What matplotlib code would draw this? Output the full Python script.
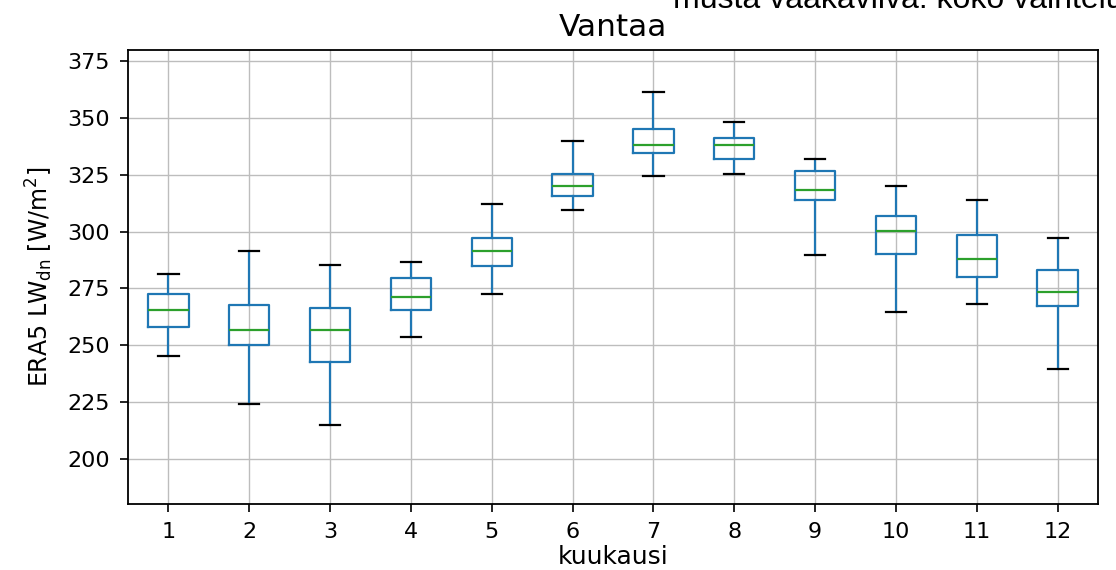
import matplotlib
matplotlib.use('Agg')
import matplotlib.pyplot as plt

# kuukausittaiset laatikot (luettu kuvasta)
kuukaudet = [1, 2, 3, 4, 5, 6, 7, 8, 9, 10, 11, 12]
whislo = [245.1, 224.0, 214.6, 253.5, 272.6, 309.3, 324.6, 325.2, 289.9, 264.7, 267.9, 239.3]
q1 = [258.0, 250.0, 242.5, 265.3, 284.8, 315.5, 334.6, 332.1, 313.9, 290.0, 279.8, 267.2]
med = [265.4, 256.6, 256.6, 271.3, 291.3, 320.1, 338.0, 338.1, 318.2, 300.1, 288.0, 273.4]
q3 = [272.6, 267.8, 266.5, 279.7, 297.3, 325.2, 345.2, 341.2, 326.7, 306.7, 298.5, 283.2]
whishi = [281.5, 291.3, 285.4, 286.5, 312.0, 340.0, 361.3, 348.1, 332.1, 320.1, 314.0, 297.3]

stats = []
for i, k in enumerate(kuukaudet):
    stats.append({'label': str(k), 'whislo': whislo[i], 'q1': q1[i], 'med': med[i],
                  'q3': q3[i], 'whishi': whishi[i], 'fliers': []})

fig = plt.figure(figsize=(11.16, 5.70), dpi=100)
ax = fig.add_axes([0.1147, 0.1158, 0.8692, 0.7965])

ax.bxp(stats, positions=kuukaudet, widths=0.5, showfliers=False,
       boxprops=dict(color='C0', linewidth=1.6),
       whiskerprops=dict(color='C0', linewidth=1.6),
       medianprops=dict(color='C2', linewidth=1.6),
       capprops=dict(color='k', linewidth=1.6))

ax.grid(True, color='#bdbdbd', linewidth=1.0)
ax.set_axisbelow(True)
ax.set_ylim(180, 380)
ax.set_xlim(0.5, 12.5)
ax.set_yticks([200, 225, 250, 275, 300, 325, 350, 375])
ax.tick_params(labelsize=16, length=6, width=1.2, pad=7)
for s in ax.spines.values():
    s.set_linewidth(1.3)
ax.set_xlabel('kuukausi', fontsize=18, labelpad=2)
ax.set_ylabel(r'ERA5 LW$_{\rm dn}$ [W/m$^2$]', fontsize=17, labelpad=9)
ax.set_title('Vantaa', fontsize=22.5, pad=10)

# ylös leikkautunut selite
fig.text(0.603, 0.986, 'musta vaakaviiva: koko vaihteluväli', fontsize=23,
         family='Liberation Sans', va='baseline', ha='left')

fig.savefig('out.png', dpi=100)
